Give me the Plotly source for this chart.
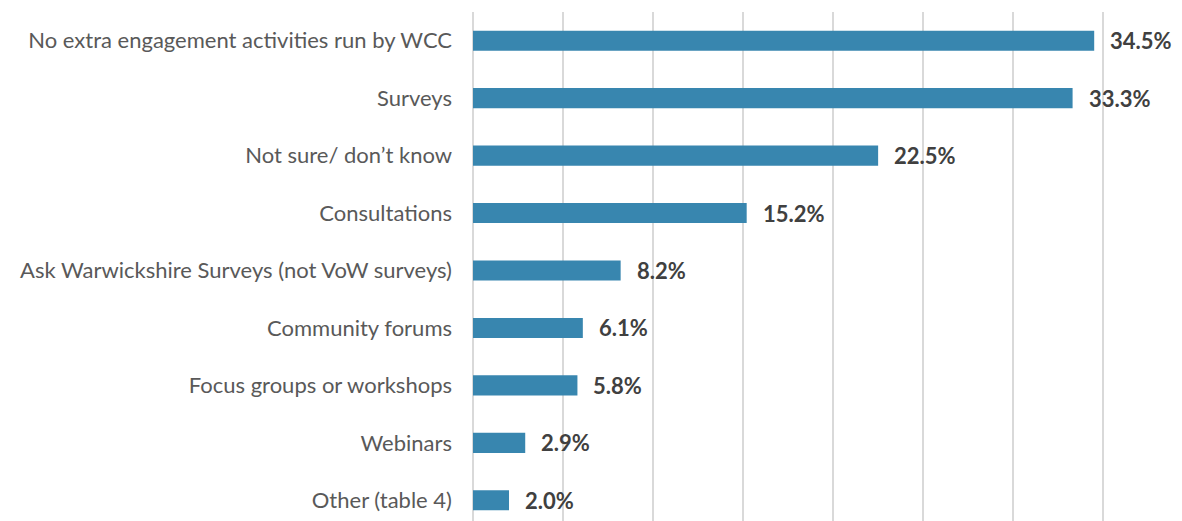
import plotly.graph_objects as go

categories = [
    "No extra engagement activities run by WCC",
    "Surveys",
    "Not sure/ don\u2019t know",
    "Consultations",
    "Ask Warwickshire Surveys (not VoW surveys)",
    "Community forums",
    "Focus groups or workshops",
    "Webinars",
    "Other (table 4)",
]
values = [34.5, 33.3, 22.5, 15.2, 8.2, 6.1, 5.8, 2.9, 2.0]

bar_blue = "#3886AF"
label_grey = "#595959"
value_grey = "#404040"

fig = go.Figure(
    go.Bar(
        x=values,
        y=categories,
        orientation="h",
        width=0.35,
        marker=dict(color=bar_blue, line=dict(width=0)),
        hoverinfo="skip",
    )
)

for cat, val in zip(categories, values):
    fig.add_annotation(
        x=val,
        y=cat,
        text=f"<b>{val:.1f}%</b>",
        showarrow=False,
        xanchor="left",
        xshift=14,
        font=dict(family="Lato", size=22, color=value_grey),
    )

# page body has an 8px margin, so offsets are trimmed by 8
fig.update_layout(
    width=1182,
    height=521,
    margin=dict(l=465, r=85, t=4, b=0),
    paper_bgcolor="white",
    plot_bgcolor="white",
    showlegend=False,
    font=dict(family="Lato", size=22, color=label_grey),
    xaxis=dict(
        range=[0, 35.1],
        dtick=5,
        showticklabels=False,
        showgrid=True,
        gridcolor="#d9d9d9",
        gridwidth=1.5,
        zeroline=True,
        zerolinecolor="#d9d9d9",
        zerolinewidth=1.5,
        fixedrange=True,
    ),
    yaxis=dict(
        range=[8.5, -0.5],
        showgrid=False,
        zeroline=False,
        ticks="",
        ticklabelstandoff=20,
        tickfont=dict(family="Lato", size=22, color=label_grey),
        fixedrange=True,
    ),
)

fig.write_html("out.html")
